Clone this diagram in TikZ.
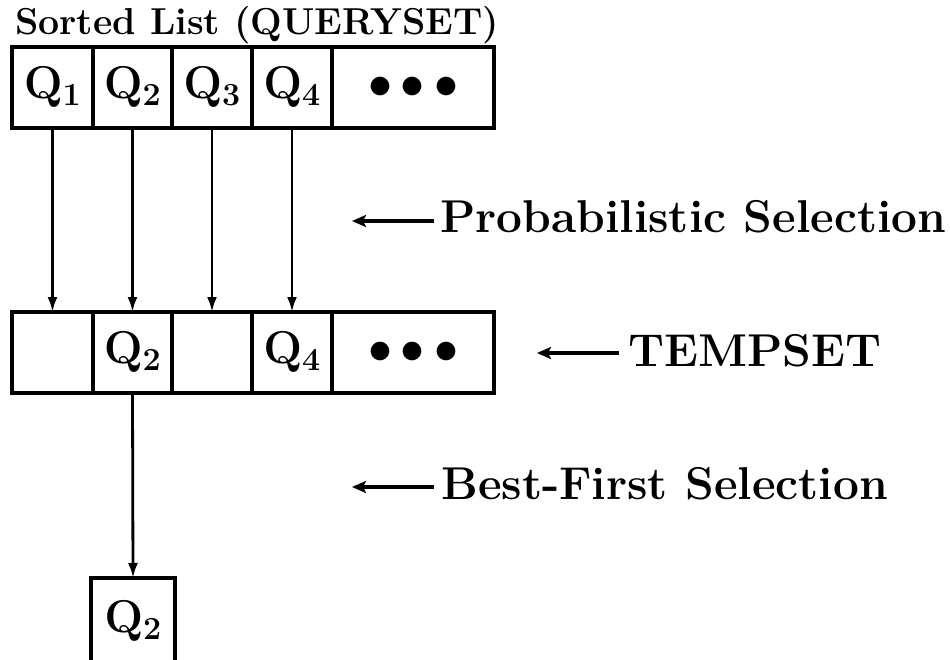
\RequirePackage{fix-cm}
\documentclass[tikz,border=0pt]{standalone}
\usetikzlibrary{arrows.meta}
\begin{document}
\begin{tikzpicture}[x=1pt,y=-1pt,
  cell/.style={draw,line width=3.4pt,inner sep=0pt,outer sep=0pt,
    minimum height=81pt,font=\fontsize{46}{54}\selectfont\bfseries},
  conn/.style={line width=2.8pt,-{Latex[length=15pt,width=10pt]}},
  pointer/.style={line width=3.6pt,-{Stealth[length=14pt,width=12pt,inset=3pt]}},
  lbl/.style={anchor=base west,inner sep=0pt,font=\fontsize{46}{52}\selectfont\bfseries},
  ttl/.style={anchor=base west,inner sep=0pt,font=\fontsize{37.5}{42}\selectfont\bfseries}]
\useasboundingbox (0,0) rectangle (950,660);

\newcommand{\qlab}[1]{$\mathbf{Q}_{\mathbf{#1}}$}
\newcommand{\dotrow}{\fontsize{48}{56}\selectfont$\bullet$\hspace{9pt}$\bullet$\hspace{9pt}$\bullet$}

% sorted list (QUERYSET)
\node[ttl] (title) at (15,35) {Sorted List (QUERYSET)};
\node[cell,minimum width=81pt] (q1) at (52.5,87.5) {\qlab1};
\node[cell,minimum width=79pt] (q2) at (132.5,87.5) {\qlab2};
\node[cell,minimum width=80pt] (q3) at (212,87.5) {\qlab3};
\node[cell,minimum width=80pt] (q4) at (292,87.5) {\qlab4};
\node[cell,minimum width=162pt] (q5) at (413,87.5) {\dotrow};

% TEMPSET
\node[cell,minimum width=81pt] (t1) at (52.5,352.5) {};
\node[cell,minimum width=79pt] (t2) at (132.5,352.5) {\qlab2};
\node[cell,minimum width=80pt] (t3) at (212,352.5) {};
\node[cell,minimum width=80pt] (t4) at (292,352.5) {\qlab4};
\node[cell,minimum width=162pt] (t5) at (413,352.5) {\dotrow};

% selected query
\node[cell,minimum width=84pt,minimum height=86pt] (sel) at (133,621) {\raisebox{4pt}{\qlab2}};

% selection arrows
\draw[conn] (q1.south) -- (t1.north);
\draw[conn] (q2.south) -- (t2.north);
\draw[conn] (q3.south) -- (t3.north);
\draw[conn] (q4.south) -- (t4.north);
\draw[conn] (t2.south) -- (sel.north);

% stage labels with their pointers
\node[lbl] (prob) at (440,233) {Probabilistic Selection};
\node[lbl] (temp) at (628,366) {TEMPSET};
\node[lbl] (best) at (441,499) {Best-First Selection};
\coordinate (probS) at (434,221);
\coordinate (probE) at (352,221);
\coordinate (tempS) at (619,353);
\coordinate (tempE) at (537,353);
\coordinate (bestS) at (434,487);
\coordinate (bestE) at (352,487);
\draw[pointer] (probS) -- (probE);
\draw[pointer] (tempS) -- (tempE);
\draw[pointer] (bestS) -- (bestE);
\end{tikzpicture}
\end{document}
